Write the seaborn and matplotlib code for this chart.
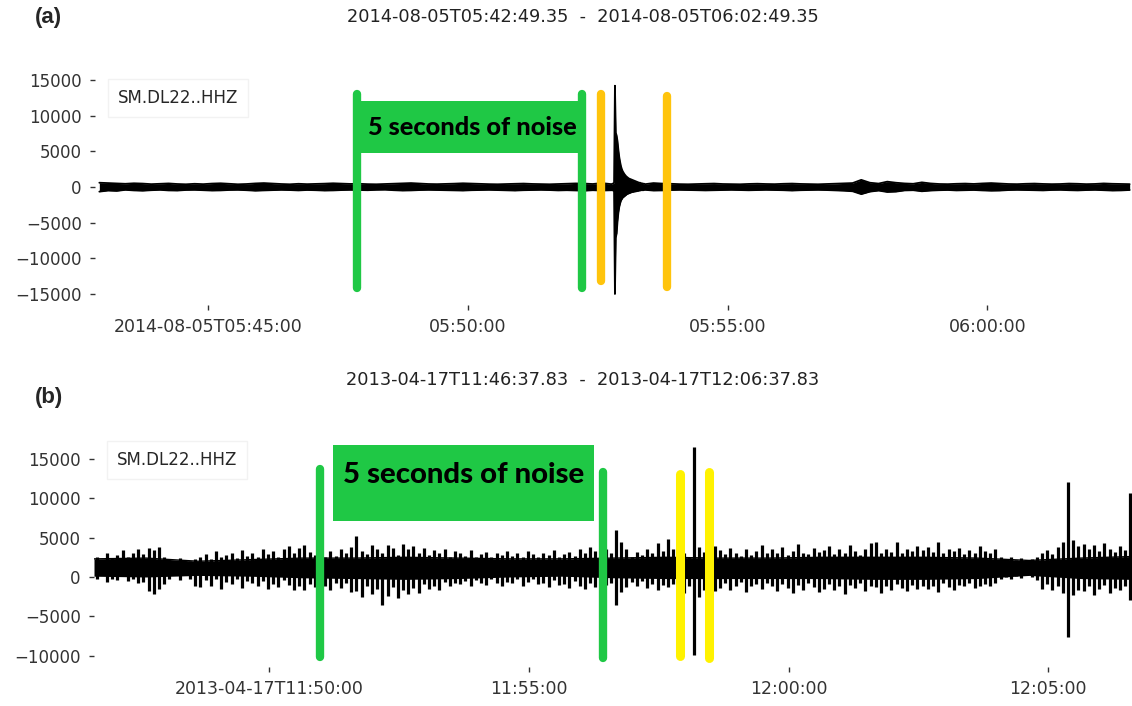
import numpy as np
import matplotlib
matplotlib.use("Agg")
import matplotlib.pyplot as plt
import seaborn as sns

station = "SM.DL22..HHZ"

# ---------------- panel (a): 2014-08-05, 20 min window ----------------
title_a = "2014-08-05T05:42:49.35  -  2014-08-05T06:02:49.35"
# max / min of the trace per 10 s bin (counts)
step_a = 10
hi_a = [600, 550, 500, 450, 520, 480, 400, 450, 500, 420,
        380, 450, 400, 480, 520, 450, 380, 420, 500, 550,
        480, 420, 380, 450, 400, 430, 470, 520, 480, 430,
        450, 400, 380, 420, 460, 500, 550, 480, 420, 400,
        430, 470, 520, 480, 440, 400, 380, 420, 450, 480,
        430, 400, 380, 420, 450, 500, 480, 420, 550, 500,
        500, 450, 400, 420, 550, 480, 450, 400, 380, 420,
        450, 480, 420, 400, 380, 430, 460, 420, 400, 450,
        480, 430, 400, 380, 420, 450, 500, 550, 1000, 600,
        480, 750, 600, 500, 450, 650, 500, 420, 400, 450,
        480, 430, 500, 550, 480, 420, 400, 450, 480, 430,
        400, 420, 480, 450, 400, 430, 500, 450, 420, 400]
lo_a = [-650, -500, -550, -400, -480, -520, -450, -400, -480, -500,
        -420, -400, -450, -500, -480, -420, -400, -450, -520, -480,
        -450, -400, -430, -480, -420, -450, -500, -480, -430, -400,
        -420, -450, -400, -380, -450, -500, -480, -430, -400, -420,
        -450, -480, -500, -450, -420, -400, -430, -460, -500, -450,
        -420, -400, -430, -480, -450, -480, -520, -450, -500, -550,
        -480, -450, -420, -450, -500, -480, -430, -400, -420, -450,
        -480, -450, -420, -400, -430, -460, -430, -400, -420, -450,
        -500, -450, -420, -400, -430, -480, -520, -600, -1000, -650,
        -500, -700, -650, -480, -450, -600, -500, -450, -420, -480,
        -450, -420, -480, -520, -500, -430, -400, -420, -450, -480,
        -420, -400, -450, -480, -430, -400, -450, -500, -480, -420]
# the event itself, 1 s bins from 596 s
event_a_start = 596
event_hi_a = [400, 450, 500, 600, 14200, 7600, 7200, 6400, 5200, 4200,
              3500, 2900, 2500, 2200, 2000, 1800, 1650, 1500, 1400, 1300,
              1200, 1150, 1100, 1050, 1000, 950, 900, 850, 800, 750,
              700, 650, 600, 600, 550, 500, 500, 450, 450, 400]
event_lo_a = [-450, -450, -500, -600, -15000, -7100, -6500, -4800, -3600, -2800,
              -2300, -1900, -1700, -1500, -1400, -1300, -1200, -1100, -1000, -950,
              -900, -850, -800, -750, -700, -700, -650, -650, -600, -600,
              -550, -550, -500, -500, -450, -450, -450, -450, -400, -400]
xticks_a = [130.65, 430.65, 730.65, 1030.65]
xticklabels_a = ["2014-08-05T05:45:00", "05:50:00", "05:55:00", "06:00:00"]
yticks_a = [-15000, -10000, -5000, 0, 5000, 10000, 15000]
noise_a = [302.6, 562.6]     # green picks, s after start
phase_a = [584.5, 660.7]     # orange picks

# ---------------- panel (b): 2013-04-17, 20 min window ----------------
title_b = "2013-04-17T11:46:37.83  -  2013-04-17T12:06:37.83"
# max / min per 6 s bin
step_b = 6
hi_b = [2600, 2200, 3000, 2400, 2800, 3400, 2500, 3100, 3600, 2900,
        3700, 3400, 3800, 2600, 2200, 1800, 2400, 1600, 2000, 2300,
        2500, 2900, 2300, 3300, 2600, 2800, 3100, 2400, 3400, 2700,
        3000, 2600, 3500, 2900, 3300, 2500, 3600, 3900, 3100, 3700,
        4100, 3200, 2800, 3600, 2500, 3300, 2700, 3500, 3000, 3800,
        5200, 3300, 2900, 4100, 3600, 3000, 4000, 3700, 2800, 4200,
        3600, 3900, 3100, 3700, 2800, 3400, 3000, 3600, 2600, 3300,
        3100, 2700, 3400, 2600, 2900, 3200, 2500, 3000, 2800, 3300,
        2700, 3000, 2600, 3300, 2900, 2500, 3100, 2800, 3400, 2600,
        2900, 3200, 2700, 3500, 3000, 3800, 3300, 4000, 3600, 3100,
        6000, 4400, 3500, 2600, 3200, 2800, 3600, 3000, 4300, 3300,
        4800, 3600, 2700, 3100, 2500, 16500, 3800, 3200, 2900, 3900,
        3400, 2900, 3700, 3100, 2700, 3500, 2800, 3300, 4100, 3000,
        3600, 3000, 3800, 2800, 3300, 4200, 3100, 2900, 3700, 3200,
        3400, 3900, 2900, 3500, 3100, 4000, 3300, 2800, 3600, 4300,
        4400, 3100, 3500, 3200, 4500, 3000, 3600, 3300, 3900, 3400,
        3800, 3200, 4400, 3000, 3500, 3300, 3700, 2900, 3400, 3100,
        3900, 3300, 3000, 3500, 2600, 2300, 2500, 2200, 2400, 2100,
        2300, 2500, 3000, 3400, 2900, 3800, 4500, 12000, 4700, 3900,
        4200, 3500, 4000, 3300, 4300, 3600, 3200, 3900, 3400, 10600]
lo_b = [-300, 200, -600, -200, -400, 100, -500, -300, -800, -600,
        -1800, -2100, -1500, -900, -300, 200, -400, 300, -200, -1200,
        -1300, -400, -1100, -200, -1500, -600, -900, -300, -1400, -500,
        -700, -1200, -500, -1500, -900, -1300, -400, -1000, -1600, -1100,
        -1700, -900, -1300, -600, -1100, -1600, -800, -1400, -700, -1900,
        -1800, -2600, -1200, -2200, -1500, -3550, -2400, -1300, -2700, -1600,
        -2200, -1400, -2000, -900, -1500, -1100, -1700, -600, -1200, -800,
        -900, -500, -1200, -400, -800, -1000, -300, -700, -1100, -600,
        -800, -300, -1200, -600, -200, -900, -700, -1300, -400, -1000,
        -900, -1400, -500, -1100, -1500, -800, -1300, -1600, -1000, -700,
        -3500, -1900, -1300, -600, -1100, -500, -1400, -900, -1700, -1000,
        -1300, -900, -1500, -2000, -1200, -9900, -2500, -1600, -1000, -1800,
        -1400, -800, -1700, -1100, -600, -1900, -1200, -900, -1500, -700,
        -1100, -1800, -900, -1400, -2000, -1000, -1600, -700, -1300, -1900,
        -1500, -900, -1700, -1200, -2200, -1000, -1400, -800, -1800, -1100,
        -1300, -2000, -1100, -1600, -900, -1400, -1800, -1000, -1500, -1200,
        -1500, -1100, -1900, -800, -1300, -1600, -1000, -1200, -700, -1400,
        -1200, -900, -1100, -700, -300, 0, -200, 100, -100, 200,
        0, -400, -1500, -900, -1700, -1200, -2000, -7600, -2300, -1600,
        -1800, -1200, -2300, -1500, -1000, -2000, -1400, -1700, -1100, -2900]
# dense core of the trace, read every 60 s (t = 0, 60, ..., 1200)
core_step_b = 60
core_hi_b = [2300, 2400, 2000, 2200, 2400, 2400, 2500, 2400, 2300, 2300, 2400,
             2500, 2400, 2400, 2500, 2500, 2500, 2400, 2100, 2400, 2600]
core_lo_b = [100, 0, 200, 100, -100, -200, -300, -200, 0, 100, -100,
             -200, -200, -200, -200, -300, -300, -200, 200, -200, -300]
xticks_b = [202.17, 502.17, 802.17, 1102.17]
xticklabels_b = ["2013-04-17T11:50:00", "11:55:00", "12:00:00", "12:05:00"]
yticks_b = [-10000, -5000, 0, 5000, 10000, 15000]
noise_b = [261.1, 588.0]
phase_b = [676.9, 710.4]

GREEN = "#1fc845"
ORANGE = "#ffc40c"
YELLOW = "#fff200"

sns.set_style("ticks")
plt.rcParams["font.family"] = ["DejaVu Sans"]

fig = plt.figure(figsize=(11.32, 7.06), dpi=100)
W, H = 1132, 706
ax_a = fig.add_axes([95 / W, 1 - 305 / H, 1039 / W, 235 / H])
ax_b = fig.add_axes([94 / W, 1 - 667 / H, 1039 / W, 234 / H])

# ---- trace (a): bin centres, with the 1 s event bins spliced in
tc_a = np.arange(len(hi_a)) * step_a + step_a / 2
te_a = event_a_start + np.arange(len(event_hi_a)) + 0.5
keep = (tc_a < 590) | (tc_a >= 640)
t_a = np.concatenate([tc_a[keep], te_a])
up_a = np.concatenate([np.array(hi_a)[keep], event_hi_a])
dn_a = np.concatenate([np.array(lo_a)[keep], event_lo_a])
order = np.argsort(t_a)
t_a, up_a, dn_a = t_a[order], up_a[order], dn_a[order]

ax_a.fill_between(t_a, dn_a, up_a, color="black", lw=0, zorder=2)
sns.lineplot(x=t_a, y=up_a, ax=ax_a, color="black", linewidth=1.3, sort=False,
             estimator=None, label=station, zorder=2)
sns.lineplot(x=t_a, y=dn_a, ax=ax_a, color="black", linewidth=1.3, sort=False,
             estimator=None, zorder=2)

# ---- trace (b): solid core plus one stroke per bin from min to max
t_core = np.arange(len(core_hi_b)) * core_step_b
t_b = np.arange(len(hi_b)) * step_b + step_b / 2
ax_b.fill_between(t_core, core_lo_b, core_hi_b, color="black", lw=0, zorder=2)
sns.lineplot(x=t_core, y=core_hi_b, ax=ax_b, color="black", linewidth=1.0,
             sort=False, estimator=None, label=station, zorder=2)
ax_b.vlines(t_b, lo_b, hi_b, color="black", lw=2.3, zorder=2)

# ---- picks and noise windows
for tp, (y0, y1) in zip(noise_a, [(-14200, 13000), (-14200, 13000)]):
    ax_a.plot([tp, tp], [y0, y1], color=GREEN, lw=6, solid_capstyle="round", zorder=4)
for tp, (y0, y1) in zip(phase_a, [(-13150, 13000), (-14000, 12750)]):
    ax_a.plot([tp, tp], [y0, y1], color=ORANGE, lw=6, solid_capstyle="round", zorder=4)
ax_a.fill_between(noise_a, 4770, 12060, color=GREEN, lw=0, zorder=4)
ax_a.text(np.mean(noise_a) + 3, 8400, "5 seconds of noise", ha="center", va="center",
          family="Lato", fontweight="black", fontsize=18.3, color="black", zorder=5)

for tp, (y0, y1) in zip(noise_b, [(-10150, 13700), (-10280, 13300)]):
    ax_b.plot([tp, tp], [y0, y1], color=GREEN, lw=6, solid_capstyle="round", zorder=4)
for tp, (y0, y1) in zip(phase_b, [(-10030, 13070), (-10280, 13300)]):
    ax_b.plot([tp, tp], [y0, y1], color=YELLOW, lw=6.5, solid_capstyle="round", zorder=4)
ax_b.fill_between([276.1, 577.6], 7100, 16750, color=GREEN, lw=0, zorder=4)
ax_b.text(427, 13000, "5 seconds of noise", ha="center", va="center",
          family="Lato", fontweight="black", fontsize=21.2, color="black", zorder=5)

for ax, yt, xt, xl, ylim, top in [
        (ax_a, yticks_a, xticks_a, xticklabels_a, (-16542, 16402), 0.962),
        (ax_b, yticks_b, xticks_b, xticklabels_b, (-11421, 18274), 0.966)]:
    ax.set_xlim(0, 1200)
    ax.set_ylim(*ylim)
    ax.set_yticks(yt)
    ax.set_xticks(xt)
    ax.set_xticklabels(xl)
    ax.tick_params(labelsize=12, length=3.5, width=1, pad=6, colors="#333333")
    ax.tick_params(axis="x", labelsize=12.5)
    ax.set_xlabel("")
    ax.set_ylabel("")
    sns.despine(ax=ax, left=True, bottom=True)
    leg = ax.legend(loc="upper left", bbox_to_anchor=(0.0125, top), borderaxespad=0,
                    handlelength=0, handletextpad=0, fontsize=12, fancybox=False,
                    borderpad=0.6, edgecolor="#f2f2f2", framealpha=1)
    for h in leg.legend_handles:
        h.set_visible(False)

fig.text(583 / W, 1 - 17 / H, title_a, ha="center", va="center", fontsize=12.8, color="#222222")
fig.text(583 / W, 1 - 380 / H, title_b, ha="center", va="center", fontsize=12.8, color="#222222")
fig.text(35 / W, 1 - 17 / H, "(a)", ha="left", va="center", fontsize=16,
         fontweight="bold", family="Liberation Sans")
fig.text(35 / W, 1 - 397 / H, "(b)", ha="left", va="center", fontsize=16,
         fontweight="bold", family="Liberation Sans")

fig.savefig("out.png", dpi=100)
